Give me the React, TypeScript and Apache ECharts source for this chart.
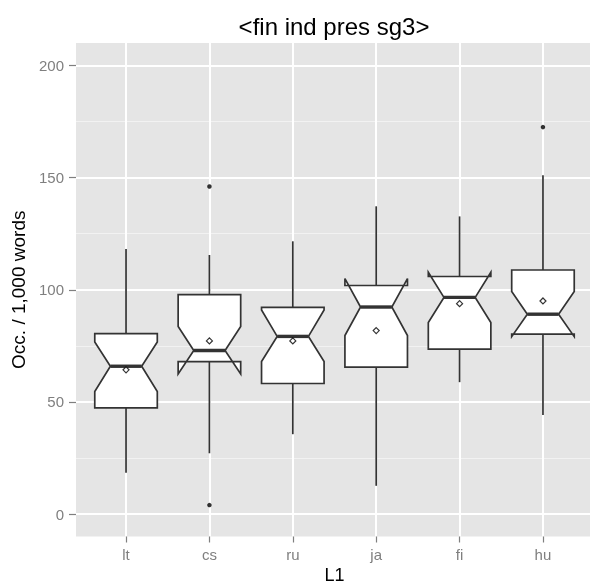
import React, { useEffect, useRef } from "react";
import * as echarts from "echarts";

const categories = ["lt", "cs", "ru", "ja", "fi", "hu"];
const lowerWhisker = [18.4, 27.1, 35.6, 12.6, 58.8, 44.2];
const q1 = [47.3, 68.0, 58.2, 65.5, 73.5, 80.2];
const notchLow = [54.6, 62.5, 68.0, 79.6, 85.4, 79.1];
const median = [65.9, 72.9, 79.2, 92.3, 96.6, 89.1];
const notchHigh = [76.7, 83.6, 91.0, 105.0, 107.8, 99.2];
const q3 = [80.4, 97.8, 92.1, 101.9, 105.9, 108.8];
const upperWhisker = [118.2, 115.5, 121.6, 137.2, 132.7, 151.0];
const means = [64.3, 77.2, 77.2, 81.8, 93.8, 95.0];
const outlierCategory = ["cs", "cs", "hu"];
const outlierValue = [146.0, 4.0, 172.5];
const yMajorTicks = [0, 50, 100, 150, 200];
const yMinorTicks = [25, 75, 125, 175];

const FONT = "Liberation Sans, Arial, Helvetica, sans-serif";
const INK = "#333333";

export default function App() {
  const ref = useRef<HTMLDivElement>(null);
  useEffect(() => {
    if (!ref.current) return;
    const chart = echarts.init(ref.current, null, { renderer: "svg" });
    const pos = categories.map((_, i) => i + 1);
    const boxData = categories.map((_, i) => [
      pos[i],
      lowerWhisker[i],
      q1[i],
      notchLow[i],
      median[i],
      notchHigh[i],
      q3[i],
      upperWhisker[i],
    ]);
    const meanData = categories.map((_, i) => [pos[i], means[i]]);
    const outData = outlierCategory.map((c, i) => [categories.indexOf(c) + 1, outlierValue[i]]);

    chart.setOption({
      animation: false,
      textStyle: { fontFamily: FONT },
      title: {
        text: "<fin ind pres sg3>",
        left: 334,
        top: 14,
        padding: 0,
        textAlign: "center",
        textStyle: { fontSize: 24, fontWeight: "normal", color: "#000", fontFamily: FONT },
      },
      grid: {
        left: 76,
        top: 43,
        width: 517,
        height: 493.5,
        show: true,
        backgroundColor: "#e5e5e5",
        borderWidth: 0,
        containLabel: false,
        outerBoundsMode: "none",
      },
      xAxis: {
        type: "value",
        min: 0.4,
        max: 6.6,
        name: "L1",
        nameLocation: "middle",
        nameGap: 28,
        nameTextStyle: { fontSize: 18, color: "#000", fontFamily: FONT },
        axisLine: { show: false, onZero: false },
        axisTick: {
          show: true,
          customValues: pos,
          length: 6,
          lineStyle: { color: "#7f7f7f", width: 1.2 },
        },
        axisLabel: {
          customValues: pos,
          formatter: (v: number) => categories[Math.round(v) - 1] ?? "",
          margin: 10,
          fontSize: 15,
          color: "#7f7f7f",
          fontFamily: FONT,
        },
        splitLine: { show: true, lineStyle: { color: "#ffffff", width: 2 } },
      },
      yAxis: [
        {
          type: "value",
          min: -10,
          max: 210,
          name: "Occ. / 1,000 words",
          nameLocation: "middle",
          nameGap: 46,
          nameTextStyle: { fontSize: 19, color: "#000", fontFamily: FONT },
          axisLine: { show: false, onZero: false },
          axisTick: {
            show: true,
            customValues: yMajorTicks,
            length: 7,
            lineStyle: { color: "#7f7f7f", width: 1.2 },
          },
          axisLabel: {
            customValues: yMajorTicks,
            margin: 12,
            fontSize: 15,
            color: "#7f7f7f",
            fontFamily: FONT,
          },
          splitLine: { show: true, lineStyle: { color: "#ffffff", width: 2 } },
        },
        {
          type: "value",
          min: -10,
          max: 210,
          position: "left",
          axisLine: { show: false, onZero: false },
          axisTick: { show: false, customValues: yMinorTicks },
          axisLabel: { show: false, customValues: yMinorTicks },
          splitLine: { show: true, lineStyle: { color: "#f2f2f2", width: 1 } },
        },
      ],
      series: [
        {
          type: "custom",
          xAxisIndex: 0,
          yAxisIndex: 0,
          data: boxData,
          encode: { x: 0, y: [1, 2, 3, 4, 5, 6, 7] },
          renderItem: (_params: any, api: any) => {
            const x = api.value(0);
            const lw = api.value(1);
            const b1 = api.value(2);
            const nl = api.value(3);
            const md = api.value(4);
            const nu = api.value(5);
            const b3 = api.value(6);
            const uw = api.value(7);
            const cx = api.coord([x, md])[0];
            const half = api.coord([x + 0.375, md])[0] - cx;
            const nh = half / 2;
            const y = (v: number) => api.coord([x, v])[1];
            const pts = [
              [cx - half, y(b3)],
              [cx - half, y(nu)],
              [cx - nh, y(md)],
              [cx - half, y(nl)],
              [cx - half, y(b1)],
              [cx + half, y(b1)],
              [cx + half, y(nl)],
              [cx + nh, y(md)],
              [cx + half, y(nu)],
              [cx + half, y(b3)],
            ];
            const lineStyle = { stroke: INK, lineWidth: 1.7 };
            return {
              type: "group",
              children: [
                { type: "line", shape: { x1: cx, y1: y(b3), x2: cx, y2: y(uw) }, style: lineStyle },
                { type: "line", shape: { x1: cx, y1: y(b1), x2: cx, y2: y(lw) }, style: lineStyle },
                { type: "polygon", shape: { points: pts }, style: { fill: "#ffffff", stroke: INK, lineWidth: 1.7, lineJoin: "miter" } },
                {
                  type: "line",
                  shape: { x1: cx - nh, y1: y(md), x2: cx + nh, y2: y(md) },
                  style: { stroke: INK, lineWidth: 3.4 },
                },
              ],
            };
          },
          z: 2,
        },
        {
          type: "scatter",
          data: outData,
          symbol: "circle",
          symbolSize: 4.5,
          itemStyle: { color: "#000" },
          z: 3,
        },
        {
          type: "scatter",
          data: meanData,
          symbol: "diamond",
          symbolSize: 6,
          itemStyle: { color: "#ffffff", borderColor: "#000", borderWidth: 1.2 },
          z: 4,
        },
      ],
    });
    return () => chart.dispose();
  }, []);
  return (
    <div
      ref={ref}
      style={{ position: "fixed", left: 0, top: 0, width: 590, height: 585 }}
    />
  );
}
